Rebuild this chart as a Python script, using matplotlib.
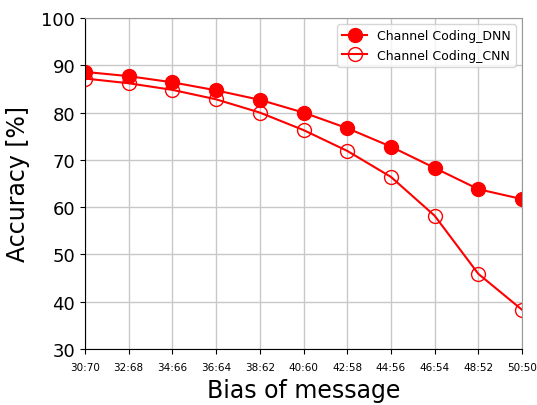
import matplotlib
matplotlib.use('Agg')
import matplotlib.pyplot as plt

# data
bias_labels = ['30:70', '32:68', '34:66', '36:64', '38:62', '40:60',
               '42:58', '44:56', '46:54', '48:52', '50:50']
acc_dnn = [88.6, 87.7, 86.4, 84.7, 82.7, 80.0, 76.7, 72.8, 68.3, 63.8, 61.7]
acc_cnn = [87.2, 86.2, 84.8, 82.8, 80.0, 76.3, 71.9, 66.4, 58.2, 45.9, 38.3]

fig = plt.figure(figsize=(5.37, 4.06), dpi=100)
ax = fig.add_axes([85/537, 56/406, 437/537, 331/406])

x = list(range(len(bias_labels)))
ax.plot(x, acc_dnn, color='red', marker='o', markersize=10,
        linewidth=1.5, label='Channel Coding_DNN')
ax.plot(x, acc_cnn, color='red', marker='o', markersize=10,
        markerfacecolor='none', markeredgewidth=1.0, linewidth=1.5,
        label='Channel Coding_CNN')

ax.set_xlim(0, len(bias_labels) - 1)
ax.set_ylim(30, 100)
ax.set_xticks(x)
ax.set_xticklabels(bias_labels, fontsize=7.5)
ax.set_yticks(range(30, 101, 10))
ax.tick_params(axis='y', labelsize=13)
ax.tick_params(axis='x', pad=6)
ax.set_xlabel('Bias of message', fontsize=17, labelpad=4)
ax.set_ylabel('Accuracy [%]', fontsize=17, labelpad=8)
ax.grid(True, color='#c8c8c8', linewidth=1)
ax.set_axisbelow(True)
for s in ['top', 'right']:
    ax.spines[s].set_color('#999999')
ax.legend(loc='upper right', fontsize=9)

fig.savefig('out.png', dpi=100)
